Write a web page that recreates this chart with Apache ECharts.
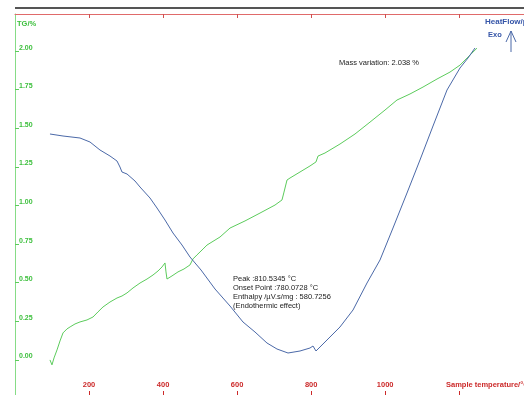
<!DOCTYPE html>
<html><head><meta charset="utf-8">
<script src="https://cdn.jsdelivr.net/npm/echarts@6/dist/echarts.min.js"></script>
<style>html,body{margin:0;padding:0;background:#fff}#c{width:524px;height:395px}</style>
</head><body><div id="c"></div>
<script>
// Sample temperature (°C) and TG (%) for the green curve
const tgTemp = [94.5,99.9,105.4,113.5,121.6,129.7,140.5,148.9,162.1,175.6,194.5,210.7,224.2,237.7,256.6,275.5,289.0,302.6,318.8,337.7,356.6,372.8,386.3,397.1,405.2,407.9,410.6,424.1,440.3,456.5,472.7,480.8,491.6,507.9,518.7,532.2,553.8,580.8,621.3,661.8,702.4,721.3,726.7,734.8,742.9,769.9,796.9,813.1,818.5,837.4,877.9,918.5,959.0,999.5,1031.9,1067.0,1102.2,1140.0,1175.1,1202.1,1223.7,1248.0];
const tgValue = [0.000,-0.032,0.013,0.065,0.123,0.175,0.201,0.214,0.233,0.246,0.259,0.278,0.311,0.343,0.375,0.401,0.414,0.434,0.466,0.498,0.524,0.550,0.576,0.602,0.628,0.570,0.524,0.544,0.570,0.589,0.615,0.654,0.680,0.718,0.744,0.764,0.796,0.854,0.900,0.951,1.003,1.036,1.087,1.165,1.178,1.217,1.256,1.282,1.320,1.340,1.398,1.463,1.540,1.618,1.683,1.722,1.767,1.819,1.864,1.909,1.961,2.019];
// Sample temperature (°C) and heat flow (µV/mg, arbitrary offset) for the blue curve
const hfTemp = [94.5,129.7,175.6,202.6,229.6,256.6,275.5,283.6,289.0,302.6,324.2,337.7,364.7,383.6,405.2,426.8,451.1,472.7,502.5,540.3,580.8,615.9,648.3,680.7,707.7,737.5,769.9,796.9,805.0,807.7,813.1,823.9,842.8,877.9,913.1,950.9,986.0,1021.1,1058.9,1094.0,1129.2,1167.0,1202.1,1223.7,1242.6];
const hfValue = [22.6,22.4,22.2,21.8,21.0,20.4,19.9,19.3,18.8,18.6,17.9,17.3,16.2,15.2,14.0,12.7,11.5,10.3,9.0,7.1,5.4,3.8,2.8,1.7,1.1,0.7,0.9,1.2,1.4,1.6,0.9,1.3,2.0,3.3,5.0,7.7,10.0,13.2,16.7,20.0,23.4,27.0,29.2,30.2,31.2];
// Tick labels
const xTicks = [200,400,600,800,1000,1200];
const xLabels = [200,400,600,800,1000];
const yTicks = [0,0.25,0.5,0.75,1.0,1.25,1.5,1.75,2.0];

const FONT = 'Liberation Sans';
const GREEN = '#5ccc5c', RED = '#cc2a2a', BLUE = '#4b69a8';
const chart = echarts.init(document.getElementById('c'), null, {renderer:'canvas'});
chart.setOption({
  animation:false,
  backgroundColor:'#fff',
  grid:{left:15, right:0, top:14, bottom:0, containLabel:false},
  xAxis:[
    {type:'value', min:0, max:1375, position:'bottom',
     axisLine:{show:false, onZero:false},
     axisTick:{show:true, inside:true, length:4, customValues:xTicks, lineStyle:{color:RED}},
     axisLabel:{show:true, inside:true, margin:6, customValues:xLabels, formatter:v=>String(v), color:RED, fontSize:7.5, fontWeight:'bold', fontFamily:FONT},
     splitLine:{show:false}},
    {type:'value', min:0, max:1375, position:'top',
     axisLine:{show:true, onZero:false, lineStyle:{color:'#e06a6a', width:1}},
     axisTick:{show:true, inside:true, length:4, customValues:xTicks, lineStyle:{color:'#d05050'}},
     axisLabel:{show:false}, splitLine:{show:false}}
  ],
  yAxis:[
    {type:'value', min:-0.227, max:2.24, position:'left',
     axisLine:{show:true, onZero:false, lineStyle:{color:'#86dc86', width:1}},
     axisTick:{show:true, inside:true, length:4, customValues:yTicks, lineStyle:{color:GREEN}},
     axisLabel:{show:true, inside:true, margin:4, customValues:yTicks, verticalAlign:'bottom',
       formatter:v=>v.toFixed(2), color:'#3cbf3c', fontSize:7, fontWeight:'bold', fontFamily:FONT},
     splitLine:{show:false}},
    {type:'value', min:-3.5, max:34.6, show:false, splitLine:{show:false}}
  ],
  series:[
    {type:'line', name:'TG', xAxisIndex:0, yAxisIndex:0, showSymbol:false, symbol:'none',
     data:tgTemp.map((t,i)=>[t,tgValue[i]]), lineStyle:{color:GREEN, width:1}},
    {type:'line', name:'HeatFlow', xAxisIndex:0, yAxisIndex:1, showSymbol:false, symbol:'none',
     data:hfTemp.map((t,i)=>[t,hfValue[i]]), lineStyle:{color:BLUE, width:1}}
  ],
  graphic:[
    {type:'line', shape:{x1:15,y1:8,x2:524,y2:8}, style:{stroke:'#555', lineWidth:2}},
    {type:'text', left:17, top:20, style:{text:'TG/%', fill:'#3cbf3c', font:'bold 7.5px "Liberation Sans"'}},
    {type:'text', left:485, top:18, style:{text:'HeatFlow/µV', fill:'#3555a8', font:'bold 8px "Liberation Sans"'}},
    {type:'text', left:488, top:31, style:{text:'Exo', fill:'#3555a8', font:'bold 7.5px "Liberation Sans"'}},
    {type:'polyline', shape:{points:[[511,52],[511,31]]}, style:{stroke:BLUE, lineWidth:1, fill:null}},
    {type:'polyline', shape:{points:[[506,42],[511,31],[516,42]]}, style:{stroke:BLUE, lineWidth:1, fill:null}},
    {type:'text', left:339, top:59, style:{text:'Mass variation: 2.038 %', fill:'#222', font:'7.5px "Liberation Sans"'}},
    {type:'text', left:233, top:275, style:{text:'Peak :810.5345 °C\nOnset Point :780.0728 °C\nEnthalpy /µV.s/mg : 580.7256\n(Endothermic effect)', fill:'#222', font:'7.5px "Liberation Sans"', lineHeight:8.7}},
    {type:'text', left:446, top:381, style:{text:'Sample temperature/°C', fill:RED, font:'bold 7.5px "Liberation Sans"'}}
  ]
});
</script></body></html>
